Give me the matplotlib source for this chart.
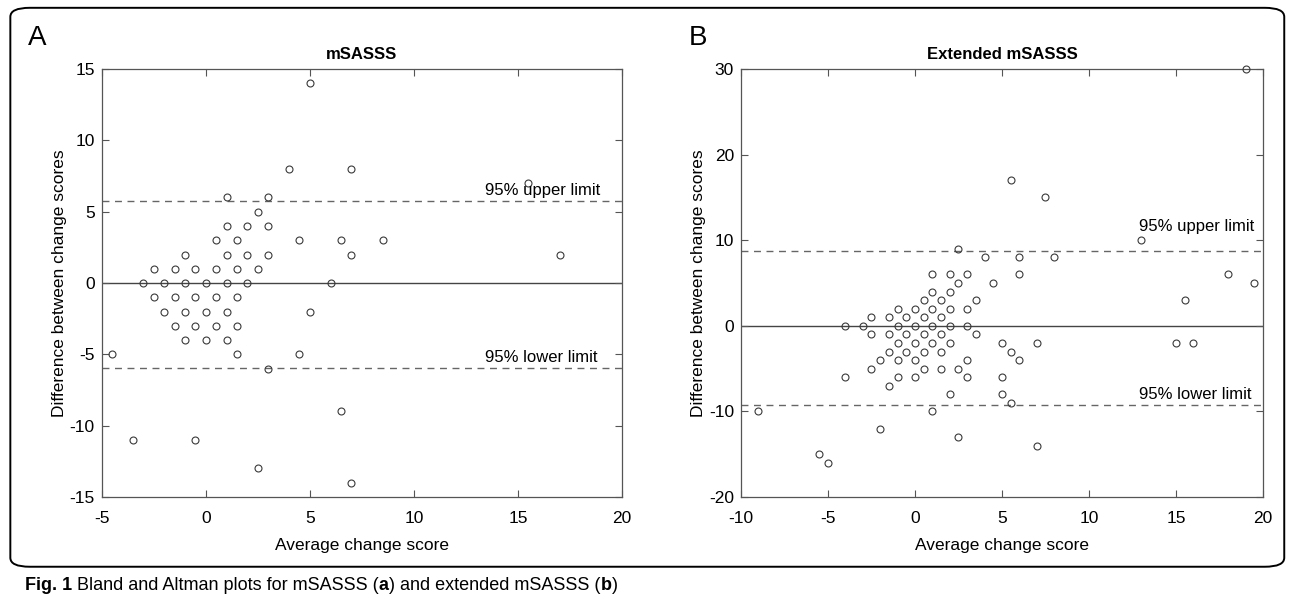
import matplotlib
matplotlib.use("Agg")
import matplotlib.pyplot as plt
from matplotlib.patches import FancyBboxPatch

plt.rcParams['font.family'] = ['Liberation Sans', 'DejaVu Sans']
plt.rcParams['axes.unicode_minus'] = False

# panel A: mSASSS
avg_a = [-3, -2, -1, 0, 1, 2, 6,
         -2.5, -1.5, -0.5, 0.5, 1.5, 2.5,
         -1, 1, 2, 3, 7, 17,
         0.5, 1.5, 4.5, 6.5, 8.5,
         1, 2, 3,
         2.5,
         1, 3,
         15.5,
         4, 7,
         5,
         -2.5, -1.5, -0.5, 0.5, 1.5,
         -2, -1, 0, 1, 5,
         -1.5, -0.5, 0.5, 1.5,
         -1, 0, 1,
         -4.5, 1.5, 4.5,
         3,
         6.5,
         -3.5, -0.5,
         2.5,
         7]
diff_a = [0] * 7 + [1] * 6 + [2] * 6 + [3] * 5 + [4] * 3 + [5] + [6] * 2 + [7] + [8] * 2 + [14] \
    + [-1] * 5 + [-2] * 5 + [-3] * 4 + [-4] * 3 + [-5] * 3 + [-6] + [-9] + [-11] * 2 + [-13] + [-14]
upper_a = 5.73
lower_a = -5.98

# panel B: extended mSASSS
avg_b = [19,
         5.5,
         7.5,
         13,
         2.5,
         4, 6, 8,
         1, 2, 3, 6, 18,
         2.5, 4.5, 19.5,
         1, 2,
         0.5, 1.5, 3.5, 15.5,
         -1, 0, 1, 2, 3,
         -2.5, -1.5, -0.5, 0.5, 1.5,
         -4, -3, -1, 0, 1, 2, 3,
         -2.5, -1.5, -0.5, 0.5, 1.5, 3.5,
         -1, 0, 1, 2, 5, 7, 15, 16,
         -1.5, -0.5, 0.5, 1.5, 5.5,
         -2, -1, 0, 3, 6,
         -2.5, 0.5, 1.5, 2.5,
         -4, -1, 0, 3, 5,
         -1.5,
         2, 5,
         5.5,
         -9, 1,
         -2,
         2.5,
         7,
         -5.5,
         -5]
diff_b = [30, 17, 15, 10, 9] + [8] * 3 + [6] * 5 + [5] * 3 + [4] * 2 + [3] * 4 + [2] * 5 + [1] * 5 \
    + [0] * 7 + [-1] * 6 + [-2] * 8 + [-3] * 5 + [-4] * 5 + [-5] * 4 + [-6] * 5 + [-7] + [-8] * 2 \
    + [-9] + [-10] * 2 + [-12, -13, -14, -15, -16]
upper_b = 8.8
lower_b = -9.3

axcol = '#555555'
ptcol = '#3a3a3a'

fig = plt.figure(figsize=(12.92, 6.01), dpi=100)


def panel(rect, x, y, up, lo, xlim, ylim, ticks_x, ticks_y, title, up_pos, lo_pos):
    ax = fig.add_axes(rect)
    ax.axhline(0, color='#444444', lw=1.0, zorder=1)
    ax.axhline(up, color='#666666', lw=1.0, ls=(0, (5, 4)), zorder=1)
    ax.axhline(lo, color='#666666', lw=1.0, ls=(0, (5, 4)), zorder=1)
    ax.plot(x, y, 'o', mfc='none', mec=ptcol, ms=5, mew=0.8, clip_on=False, zorder=3)
    ax.set_xlim(*xlim)
    ax.set_ylim(*ylim)
    ax.set_xticks(ticks_x)
    ax.set_yticks(ticks_y)
    ax.tick_params(direction='in', length=5, width=0.8, color=axcol, top=True, right=True,
                   labelsize=12.5)
    ax.tick_params(axis='x', pad=10)
    ax.tick_params(axis='y', pad=5)
    for s in ax.spines.values():
        s.set_color(axcol)
        s.set_linewidth(0.9)
    ax.set_title(title, fontsize=12, fontweight='bold', pad=7)
    ax.set_xlabel('Average change score', fontsize=12.5, labelpad=9)
    ax.set_ylabel('Difference between change scores', fontsize=12.5, labelpad=2)
    ax.text(up_pos[0], up_pos[1], '95% upper limit', fontsize=12, va='baseline')
    ax.text(lo_pos[0], lo_pos[1], '95% lower limit', fontsize=12, va='baseline')
    return ax


panel([0.0787, 0.173, 0.4027, 0.7121], avg_a, diff_a, upper_a, lower_a,
      (-5, 20), (-15, 15), range(-5, 21, 5), range(-15, 16, 5), 'mSASSS',
      (13.4, 6.15), (13.4, -5.5))
panel([0.5735, 0.173, 0.404, 0.7121], avg_b, diff_b, upper_b, lower_b,
      (-10, 20), (-20, 30), range(-10, 21, 5), range(-20, 31, 10), 'Extended mSASSS',
      (12.85, 11.1), (12.85, -8.55))

fig.text(0.0217, 0.937, 'A', fontsize=20, va='center')
fig.text(0.533, 0.937, 'B', fontsize=20, va='center')

frame = FancyBboxPatch((0.008, 0.057), 0.986, 0.930, boxstyle='round,pad=0,rounding_size=0.015',
                       transform=fig.transFigure, fill=False, ec='black', lw=1.4)
fig.patches.append(frame)

# caption, written piece by piece so the bold letters sit inline
cap_font = ['Liberation Sans Narrow', 'Liberation Sans', 'DejaVu Sans']
pieces = [('Fig. 1 ', 'bold'), ('Bland and Altman plots for mSASSS (', 'normal'), ('a', 'bold'),
          (') and extended mSASSS (', 'normal'), ('b', 'bold'), (')', 'normal')]
renderer = fig.canvas.get_renderer()
x = 0.0194
for s, w in pieces:
    t = fig.text(x, 0.0183, s, fontsize=13, fontweight=w, family=cap_font, va='baseline')
    x = t.get_window_extent(renderer).x1 / fig.bbox.width

fig.savefig('out.png', dpi=100)
